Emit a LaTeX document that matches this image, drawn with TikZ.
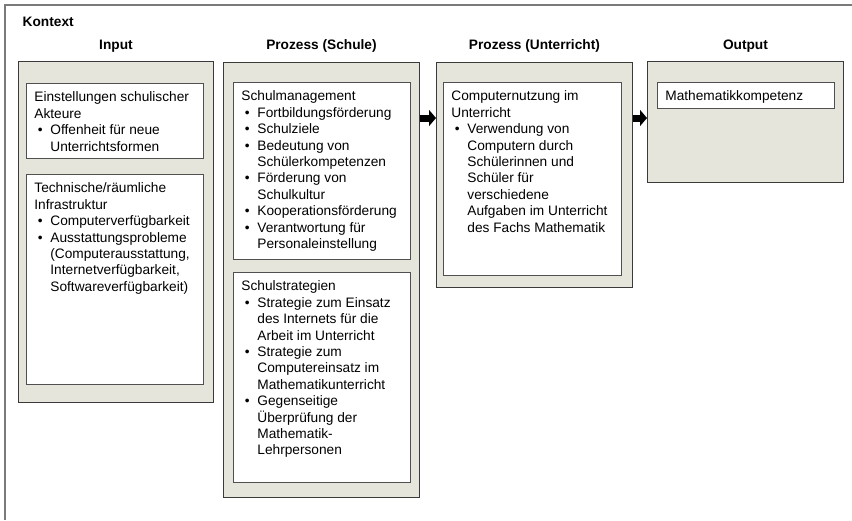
\documentclass[tikz,border=0pt]{standalone}
\usepackage{fontspec}
\setmainfont{Liberation Sans}
\usepackage{tikz}
\usetikzlibrary{arrows.meta,positioning}
\definecolor{panelfill}{HTML}{E6E5DC}
\definecolor{panelline}{HTML}{3A3A3A}
\definecolor{boxline}{HTML}{505050}
\definecolor{framegray}{HTML}{7A7A7A}
\newcommand{\pkt}{\makebox[16pt][l]{\hspace{3.5pt}\textbullet}}
\newcommand{\ein}{\hspace*{16pt}}
\newcommand{\kasten}[3]{\parbox[t][#2][t]{#1}{\strut#3}}

\begin{document}
\begin{tikzpicture}[x=1pt,y=-1pt,
    panel/.style={draw=panelline,fill=panelfill,line width=0.9pt,anchor=north west,inner sep=0pt},
    inbox/.style={draw=boxline,fill=white,line width=0.8pt,anchor=north west,inner xsep=8pt,inner ysep=7pt,font=\fontsize{13.7}{16.4}\selectfont},
    kopf/.style={font=\fontsize{13.7}{16.4}\selectfont\bfseries,inner sep=0pt,text height=10pt,text depth=3pt},
    pfeil/.style={line width=7pt,-{Triangle[length=7pt,width=16pt]}}]
  \useasboundingbox (0,0) rectangle (852,520);
  \draw[framegray,line width=1.4pt] (5,520) -- (5,5) -- (852,5);
  \node[kopf,anchor=base west] (kontext) at (22.5,26.7) {Kontext};

  \node[panel,minimum width=195pt,minimum height=341pt] (input) at (18,61) {};
  \node[panel,minimum width=196pt,minimum height=435pt] (schule) at (223,62) {};
  \node[panel,minimum width=196pt,minimum height=225pt] (unterricht) at (436,62) {};
  \node[panel,minimum width=196pt,minimum height=121pt] (output) at (647,61) {};

  \node[kopf,above=8.3pt of input] (k-input) {Input};
  \node[kopf,above=9.3pt of schule] (k-schule) {Prozess (Schule)};
  \node[kopf,above=9.3pt of unterricht] (k-unterricht) {Prozess (Unterricht)};
  \node[kopf,above=8.3pt of output] (k-output) {Output};

  \node[inbox] (einstellungen) at (26,83) {\kasten{161pt}{61pt}{Einstellungen schulischer\\Akteure\\\pkt Offenheit für neue\\\ein Unterrichtsformen}};
  \node[inbox] (infrastruktur) at (26,174) {\kasten{161pt}{196pt}{Technische/räumliche\\Infrastruktur\\\pkt Computerverfügbarkeit\\\pkt Ausstattungsprobleme\\\ein (Computerausstattung,\\\ein Internetverfügbarkeit,\\\ein Softwareverfügbarkeit)}};
  \node[inbox] (management) at (233,82) {\kasten{161pt}{163pt}{Schulmanagement\\\pkt Fortbildungsförderung\\\pkt Schulziele\\\pkt Bedeutung von\\\ein Schülerkompetenzen\\\pkt Förderung von\\\ein Schulkultur\\\pkt Kooperationsförderung\\\pkt Verantwortung für\\\ein Personaleinstellung}};
  \node[inbox] (strategien) at (233,272) {\kasten{161pt}{196pt}{Schulstrategien\\\pkt Strategie zum Einsatz\\\ein des Internets für die\\\ein Arbeit im Unterricht\\\pkt Strategie zum\\\ein Computereinsatz im\\\ein Mathematikunterricht\\\pkt Gegenseitige\\\ein Überprüfung der\\\ein Mathematik-\\\ein Lehrpersonen}};
  \node[inbox] (nutzung) at (443,82) {\kasten{162pt}{179pt}{Computernutzung im\\Unterricht\\\pkt Verwendung von\\\ein Computern durch\\\ein Schülerinnen und\\\ein Schüler für\\\ein verschiedene\\\ein Aufgaben im Unterricht\\\ein des Fachs Mathematik}};
  \node[inbox] (kompetenz) at (657,82) {\kasten{161pt}{12pt}{Mathematikkompetenz}};

  \draw[pfeil] ([yshift=-56pt]schule.north east) -- ([yshift=-56pt]unterricht.north west);
  \draw[pfeil] ([yshift=-56pt]unterricht.north east) -- ([yshift=-57pt]output.north west);
\end{tikzpicture}
\end{document}
